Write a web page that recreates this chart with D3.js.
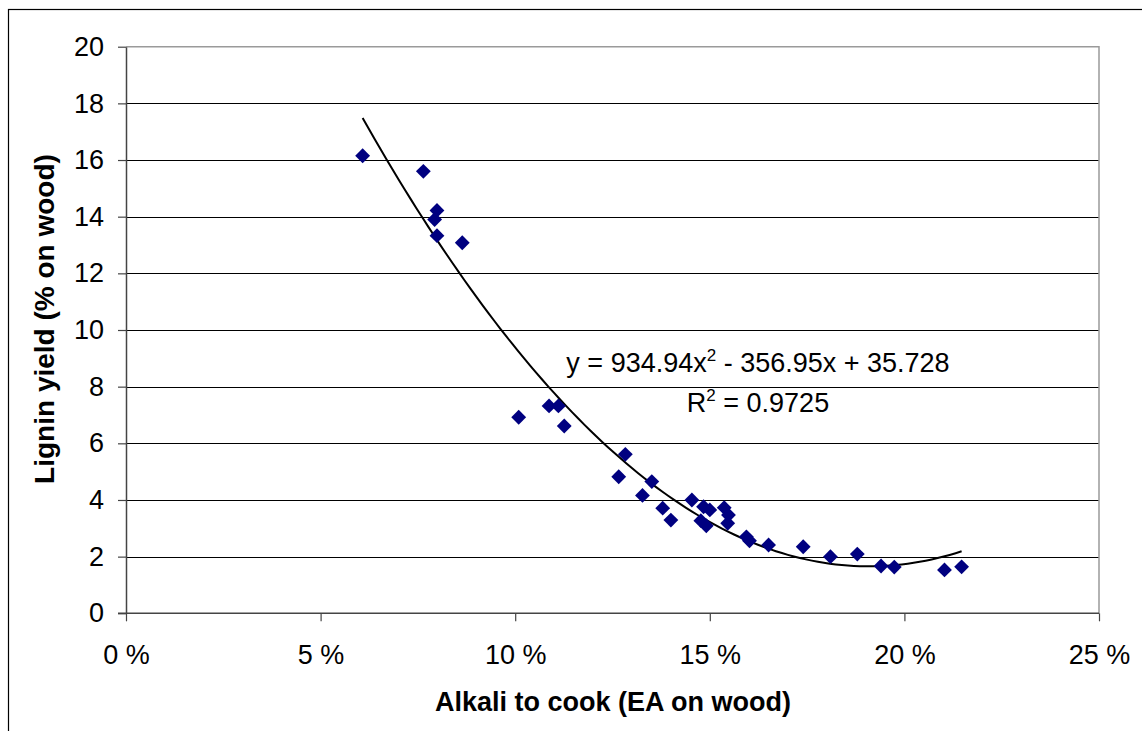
<!DOCTYPE html>
<html>
<head>
<meta charset="utf-8">
<script src="https://cdn.jsdelivr.net/npm/d3@7"></script>
<style>
  html, body { margin: 0; padding: 0; background: #fff; }
  svg { display: block; font-family: "Liberation Sans", Arial, sans-serif; }
</style>
</head>
<body>
<svg id="chart" width="1142" height="731"></svg>
<script>
// ---- data ----
const alkaliPct = [6.08, 7.64, 7.99, 7.93, 7.99, 8.64, 10.09, 10.87, 11.11, 11.26,
  12.66, 12.83, 13.27, 13.51, 13.79, 14.0, 14.54, 14.77, 14.84, 14.91, 15.0,
  15.37, 15.48, 15.46, 15.94, 16.02, 16.51, 17.40, 18.10, 18.79, 19.40, 19.74, 21.03, 21.47];
const ligninYield = [16.15, 15.6, 14.22, 13.9, 13.33, 13.08, 6.92, 7.32, 7.32, 6.61,
  4.82, 5.61, 4.16, 4.65, 3.71, 3.29, 4.0, 3.27, 3.76, 3.09, 3.65,
  3.73, 3.47, 3.18, 2.70, 2.56, 2.41, 2.35, 2.0, 2.09, 1.67, 1.63, 1.53, 1.64];
const trendCoeffs = [934.94, -356.95, 35.728]; // y = a x^2 + b x + c, x as fraction
const xTicks = [0, 0.05, 0.10, 0.15, 0.20, 0.25];
const xTickLabels = ["0 %", "5 %", "10 %", "15 %", "20 %", "25 %"];
const yTicks = [0, 2, 4, 6, 8, 10, 12, 14, 16, 18, 20];
const xTitle = "Alkali to cook (EA on wood)";
const yTitle = "Lignin yield (% on wood)";

const svg = d3.select("#chart");
const pLeft = 126, pRight = 1099, pTop = 46.7, pBottom = 613.3;
const x = d3.scaleLinear().domain([0, 0.25]).range([pLeft, pRight]);
const y = d3.scaleLinear().domain([0, 20]).range([pBottom, pTop]);
const FS = 27;

// outer chart border
svg.append("rect").attr("x", 8.5).attr("y", 9.5).attr("width", 1160).attr("height", 760)
  .attr("fill", "none").attr("stroke", "#000").attr("stroke-width", 1.2);

// gridlines
svg.append("g").selectAll("line").data(yTicks.filter(d => d > 0 && d < 20)).join("line")
  .attr("x1", pLeft).attr("x2", pRight)
  .attr("y1", d => Math.round(y(d)) + 0.5).attr("y2", d => Math.round(y(d)) + 0.5)
  .attr("stroke", "#000").attr("stroke-width", 1);

// plot area border (top/right)
svg.append("path")
  .attr("d", `M${pLeft},${pTop}H${pRight}V${pBottom}`)
  .attr("fill", "none").attr("stroke", "#9a9a9a").attr("stroke-width", 1.5);

// axes
const xAxis = d3.axisBottom(x).tickValues(xTicks).tickFormat((d, i) => xTickLabels[i])
  .tickSizeInner(8).tickSizeOuter(0).tickPadding(24);
const gx = svg.append("g").attr("transform", `translate(0,${pBottom})`).call(xAxis);
gx.select(".domain").attr("stroke", "#444").attr("stroke-width", 1.5)
  .attr("d", `M${pLeft - 8},0H${pRight}`);
gx.selectAll(".tick line").attr("stroke", "#444").attr("stroke-width", 1.2);
gx.selectAll(".tick text").attr("font-size", FS).attr("fill", "#000")
  .attr("font-family", "Liberation Sans, Arial, sans-serif");

const yAxis = d3.axisLeft(y).tickValues(yTicks).tickSizeInner(8).tickSizeOuter(0).tickPadding(14);
const gy = svg.append("g").attr("transform", `translate(${pLeft},0)`).call(yAxis);
gy.select(".domain").attr("stroke", "#444").attr("stroke-width", 1.5);
gy.selectAll(".tick line").attr("stroke", "#444").attr("stroke-width", 1.2);
gy.selectAll(".tick text").attr("font-size", FS).attr("fill", "#000")
  .attr("font-family", "Liberation Sans, Arial, sans-serif");

// trendline
const xMin = d3.min(alkaliPct) / 100, xMax = d3.max(alkaliPct) / 100;
const trendPts = d3.range(0, 101).map(i => {
  const xv = xMin + (xMax - xMin) * i / 100;
  return [xv, trendCoeffs[0] * xv * xv + trendCoeffs[1] * xv + trendCoeffs[2]];
});
svg.append("path").datum(trendPts)
  .attr("d", d3.line().x(d => x(d[0])).y(d => y(d[1])).curve(d3.curveLinear))
  .attr("fill", "none").attr("stroke", "#000").attr("stroke-width", 2);

// markers (diamonds)
const points = alkaliPct.map((v, i) => ({ x: v / 100, y: ligninYield[i] }));
svg.append("g").selectAll("path").data(points).join("path")
  .attr("transform", d => `translate(${x(d.x)},${y(d.y)}) rotate(45)`)
  .attr("d", d3.symbol().type(d3.symbolSquare).size(110))
  .attr("fill", "#000080");

// equation label
const eq = svg.append("text").attr("x", 758).attr("y", 372).attr("text-anchor", "middle")
  .attr("font-size", FS).attr("fill", "#000");
eq.append("tspan").text("y = 934.94x");
eq.append("tspan").attr("font-size", 17).attr("dy", -11).text("2");
eq.append("tspan").attr("dy", 11).text(" - 356.95x + 35.728");

const r2 = svg.append("text").attr("x", 758).attr("y", 412).attr("text-anchor", "middle")
  .attr("font-size", FS).attr("fill", "#000");
r2.append("tspan").text("R");
r2.append("tspan").attr("font-size", 17).attr("dy", -11).text("2");
r2.append("tspan").attr("dy", 11).text(" = 0.9725");

// axis titles
svg.append("text").attr("x", 613).attr("y", 711).attr("text-anchor", "middle")
  .attr("font-size", FS).attr("font-weight", "bold").attr("fill", "#000").text(xTitle);
svg.append("text").attr("transform", "translate(54,319) rotate(-90)").attr("text-anchor", "middle")
  .attr("font-size", 28).attr("font-weight", "bold").attr("fill", "#000").text(yTitle);
</script>
</body>
</html>
